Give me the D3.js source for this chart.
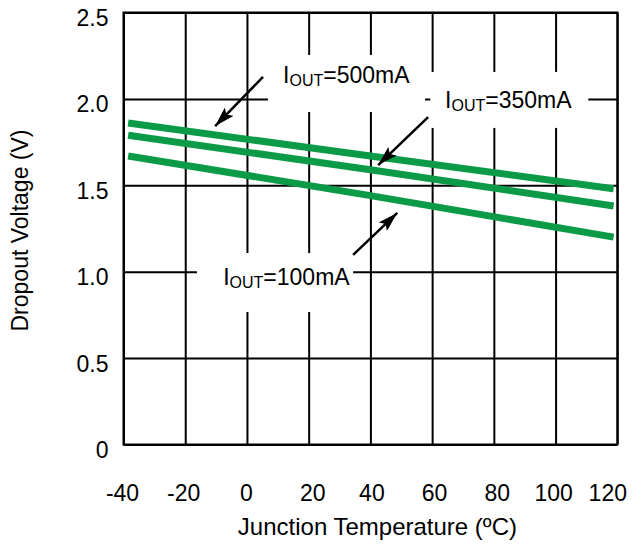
<!DOCTYPE html>
<html>
<head>
<meta charset="utf-8">
<script src="https://cdn.jsdelivr.net/npm/d3@7"></script>
<style>
  body { margin: 0; background: #fff; }
  svg { display: block; font-family: "Liberation Sans", Arial, sans-serif; }
</style>
</head>
<body>
<svg id="chart" width="643" height="547"></svg>
<script>
// Junction temperature (°C) sample points
const temperature = [-38.5, 40, 118.8];
// Dropout voltage (V) per load current
const dropout500 = [1.86, 1.67, 1.48];
const dropout350 = [1.79, 1.59, 1.38];
const dropout100 = [1.67, 1.44, 1.20];

const xTicks = [-40, -20, 0, 20, 40, 60, 80, 100, 120];
const yTicks = [0, 0.5, 1.0, 1.5, 2.0, 2.5];
const yTickLabels = ["0", "0.5", "1.0", "1.5", "2.0", "2.5"];

// Curve labels: current, text anchor, arrow tail/tip, backing box (data units)
const labelCurrent = ["500mA", "350mA", "100mA"];
const labelAt = [[11.7, 2.092], [64.2, 1.947], [-7.7, 0.923]];
const arrowFrom = [[5.2, 2.127], [58.7, 1.895], [34.4, 1.097]];
const arrowTo = [[-10.3, 1.843], [42.5, 1.617], [48.7, 1.340]];
const boxT = [[6.8, 57.7], [59.4, 110.6], [-16.2, 34.4]];
const boxV = [[2.254, 1.924], [2.156, 1.832], [1.108, 0.767]];

const svg = d3.select("#chart");
const plotL = 123.5, plotR = 617.3, plotT = 12.5, plotB = 444.5;
const x = d3.scaleLinear().domain([-40, 120]).range([plotL, plotR]);
const y = d3.scaleLinear().domain([0, 2.5]).range([plotB, plotT]);

const ink = "#000";
const green = "#0b9b47";
const fontSize = 23;
const fontFamily = "Liberation Sans, Arial, sans-serif";

// vertical grid + x tick labels
const xLabelNudge = { "-40": -1.5, "-20": -2, "0": -1, "20": 3.5, "40": 1, "60": 2, "80": 3, "100": -2.5, "120": -10 };
const gx = svg.append("g")
  .attr("transform", `translate(0,${plotB})`)
  .call(d3.axisBottom(x).tickValues(xTicks).tickSize(-(plotB - plotT)).tickPadding(0).tickFormat(d => String(d)));
gx.select(".domain").remove();
gx.selectAll("line").attr("stroke", ink).attr("stroke-width", 2);
gx.selectAll("text")
  .attr("fill", ink).attr("font-size", fontSize).attr("font-family", fontFamily)
  .attr("dy", null).attr("y", 56)
  .attr("x", d => xLabelNudge[String(d)] || 0);

// horizontal grid + y tick labels
const gy = svg.append("g")
  .attr("transform", `translate(${plotL},0)`)
  .call(d3.axisLeft(y).tickValues(yTicks).tickSize(-(plotR - plotL)).tickPadding(0).tickFormat((d, i) => yTickLabels[i]));
gy.select(".domain").remove();
gy.selectAll("line").attr("stroke", ink).attr("stroke-width", 2);
gy.selectAll("text")
  .attr("fill", ink).attr("font-size", fontSize).attr("font-family", fontFamily)
  .attr("x", -15).attr("y", 5).attr("dy", "0.35em");

// plot frame
svg.append("rect")
  .attr("x", plotL).attr("y", plotT)
  .attr("width", plotR - plotL).attr("height", plotB - plotT)
  .attr("fill", "none").attr("stroke", ink).attr("stroke-width", 2);

// white label backings that break the grid
svg.append("g").selectAll("rect")
  .data(boxT.map((t, i) => ({ t, v: boxV[i] })))
  .join("rect")
  .attr("x", d => x(d.t[0])).attr("y", d => y(d.v[0]))
  .attr("width", d => x(d.t[1]) - x(d.t[0]))
  .attr("height", d => y(d.v[1]) - y(d.v[0]))
  .attr("fill", "#fff");

// dropout curves
const series = [dropout500, dropout350, dropout100];
const line = d3.line().x((d, i) => x(temperature[i])).y(d => y(d));
svg.append("g").selectAll("path")
  .data(series)
  .join("path")
  .attr("d", line)
  .attr("fill", "none")
  .attr("stroke", green)
  .attr("stroke-width", 7)
  .attr("stroke-linecap", "butt");

// arrows
svg.append("defs").append("marker")
  .attr("id", "head")
  .attr("viewBox", "0 0 20 12")
  .attr("refX", 20).attr("refY", 6)
  .attr("markerWidth", 20).attr("markerHeight", 12)
  .attr("markerUnits", "userSpaceOnUse")
  .attr("orient", "auto")
  .append("path").attr("d", "M0,0 L20,6 L0,12 L4,6 Z").attr("fill", ink);

svg.append("g").selectAll("line")
  .data(arrowFrom.map((f, i) => ({ f, t: arrowTo[i] })))
  .join("line")
  .attr("x1", d => x(d.f[0])).attr("y1", d => y(d.f[1]))
  .attr("x2", d => x(d.t[0])).attr("y2", d => y(d.t[1]))
  .attr("stroke", ink).attr("stroke-width", 2.5)
  .attr("marker-end", "url(#head)");

// curve labels: I with OUT subscript
const labels = svg.append("g").selectAll("text")
  .data(labelCurrent.map((c, i) => ({ c, p: labelAt[i] })))
  .join("text")
  .attr("x", d => x(d.p[0])).attr("y", d => y(d.p[1]))
  .attr("font-size", fontSize).attr("font-family", fontFamily).attr("fill", ink);
labels.append("tspan").text("I");
labels.append("tspan").attr("font-size", 16).attr("dy", 3).text("OUT");
labels.append("tspan").attr("dy", -3).text(d => "=" + d.c);

// axis titles
svg.append("text")
  .attr("x", (plotL + plotR) / 2 + 7).attr("y", 535)
  .attr("text-anchor", "middle").attr("font-size", 24).attr("font-family", fontFamily).attr("fill", ink)
  .text("Junction Temperature (ºC)");
svg.append("text")
  .attr("transform", `translate(28,${(plotT + plotB) / 2 + 2}) rotate(-90)`)
  .attr("text-anchor", "middle").attr("font-size", fontSize).attr("font-family", fontFamily).attr("fill", ink)
  .text("Dropout Voltage (V)");
</script>
</body>
</html>
